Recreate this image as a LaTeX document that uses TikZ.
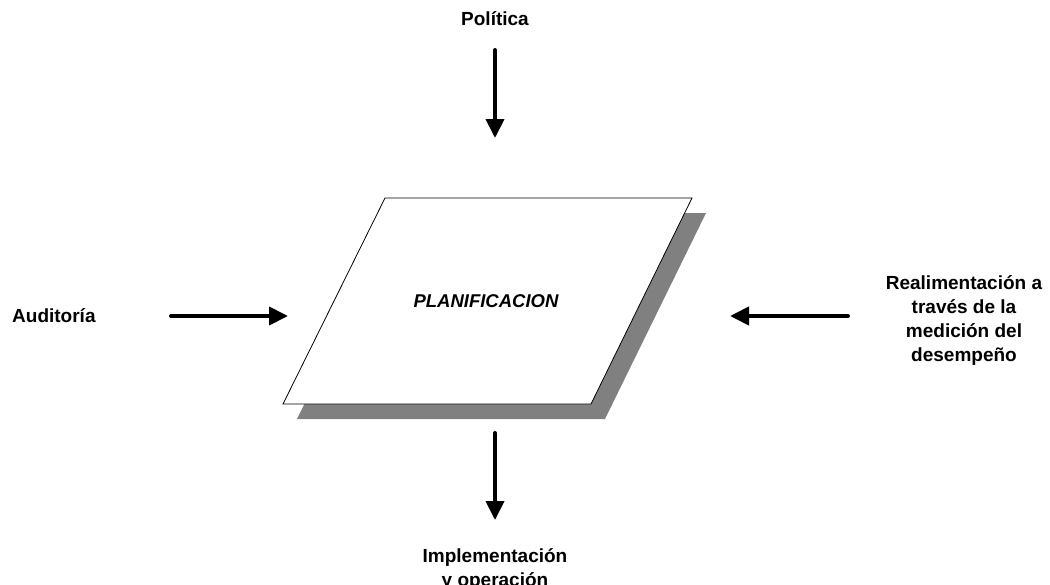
\documentclass[tikz,border=0pt]{standalone}
\usepackage{fontspec}
\setmainfont{Liberation Sans}
\usetikzlibrary{arrows.meta,positioning,calc}
\definecolor{shadowgrey}{HTML}{808080}

\begin{document}
\begin{tikzpicture}[x=1pt, y=-1pt,
    every node/.style={font=\fontsize{19}{24}\selectfont\bfseries, align=center, inner sep=0pt},
    plate/.style={draw=black, line width=0.8pt, fill=white},
    shade/.style={fill=shadowgrey, draw=none},
    feed/.style={-{Triangle[length=19pt, width=18pt]}, line width=4pt, line cap=round}
  ]
  \clip (0,0) rectangle (1050,584);

  % corners of the planning plate
  \coordinate (tl) at (385,198);
  \coordinate (tr) at (692,198);
  \coordinate (br) at (591,404);
  \coordinate (bl) at (283,404);

  \fill[shade] ($(tl)+(14,15)$) -- ($(tr)+(14,15)$) -- ($(br)+(14,15)$) -- ($(bl)+(14,15)$) -- cycle;
  \draw[plate] (tl) -- (tr) -- (br) -- (bl) -- cycle;
  \node[font=\fontsize{18.5}{22}\selectfont\bfseries\itshape, anchor=base] (plan) at (486,307) {PLANIFICACION};

  \node[anchor=base] (pol) at (495,25) {Política};
  \node[anchor=base west] (aud) at (12,322) {Auditoría};
  \node (real) at (964,320) {Realimentación a\\ través de la\\ medición del\\ desempeño};
  \node (impl) at (495,569) {Implementación\\ y operación};

  \coordinate (pol-a) at (495,50);   \coordinate (pol-b) at (495,138);
  \coordinate (aud-a) at (171,316);  \coordinate (aud-b) at (288,316);
  \coordinate (real-a) at (848,316); \coordinate (real-b) at (730,316);
  \coordinate (impl-a) at (495,433); \coordinate (impl-b) at (495,520);

  \foreach \a/\b in {pol-a/pol-b, aud-a/aud-b, real-a/real-b, impl-a/impl-b}
    {\draw[feed] (\a) -- (\b);}

\end{tikzpicture}
\end{document}
